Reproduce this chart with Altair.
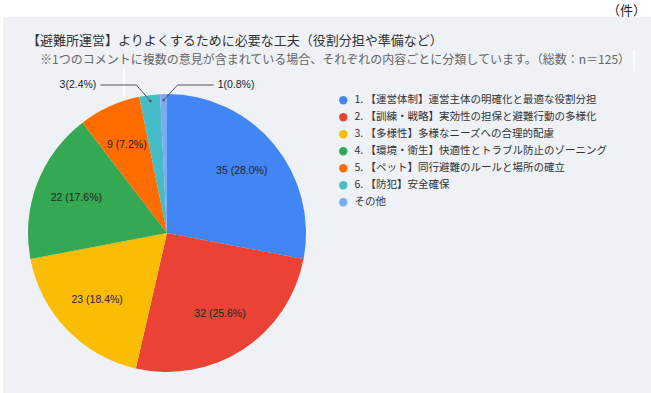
import math
import altair as alt
import pandas as pd

# ---- data ----
categories = [
    "1. 【運営体制】運営主体の明確化と最適な役割分担",
    "2. 【訓練・戦略】実効性の担保と避難行動の多様化",
    "3. 【多様性】多様なニーズへの合理的配慮",
    "4. 【環境・衛生】快適性とトラブル防止のゾーニング",
    "5. 【ペット】同行避難のルールと場所の確立",
    "6. 【防犯】安全確保",
    "その他",
]
counts = [35, 32, 23, 22, 9, 3, 1]
colors = ["#4285f4", "#ea4335", "#fbbc04", "#34a853", "#ff6d01", "#46bdc6", "#7baaf7"]

title_text = "【避難所運営】よりよくするために必要な工夫（役割分担や準備など）"
subtitle_text = "※1つのコメントに複数の意見が含まれている場合、それぞれの内容ごとに分類しています。（総数：n＝125）"
unit_text = "（件）"

# ---- layout constants ----
W, H = 651, 393
CX, CY, R = 167, 233, 139
JP = "Noto Sans CJK JP"
NUM = "Liberation Sans, Noto Sans CJK JP"

total = sum(counts)
rows = []
for i, (cat, c) in enumerate(zip(categories, counts)):
    pct = c / total * 100
    rows.append({
        "category": cat,
        "count": c,
        "idx": i,
        "label": f"{c} ({pct:.1f}%)" if pct >= 5 else "",
    })
df = pd.DataFrame(rows)

# leader lines for the small slices (computed from the data)
small = [i for i, c in enumerate(counts) if c / total * 100 < 5]
line_rows, dot_rows, out_rows = [], [], []
cum = 0
starts = []
for c in counts:
    starts.append(cum)
    cum += c
for k, i in enumerate(small):
    side = -1 if k == 0 else 1
    mid = (starts[i] + counts[i] / 2) / total * 2 * math.pi
    ax = CX + (R - 6) * math.sin(mid)
    ay = CY - (R - 6) * math.cos(mid)
    ex = ax + side * 14
    ey = CY - R - 9
    fx = ex + side * 36
    for o, (px, py) in enumerate([(ax, ay), (ex, ey), (fx, ey)]):
        line_rows.append({"g": i, "o": o, "px": px, "py": py})
    dot_rows.append({"px": ax, "py": ay})
    pct = counts[i] / total * 100
    out_rows.append({"px": fx + side * 4, "py": ey,
                     "t": f"{counts[i]}({pct:.1f}%)",
                     "side": "left" if side < 0 else "right"})

lines_df = pd.DataFrame(line_rows)
dots_df = pd.DataFrame(dot_rows)
out_df = pd.DataFrame(out_rows)

xs = alt.Scale(domain=[0, W], range=[0, W])
ys = alt.Scale(domain=[0, H], range=[0, H])

one = pd.DataFrame({"a": [0]})

panel = alt.Chart(one).mark_rect(color="#eef1f6").encode(
    x=alt.value(3), x2=alt.value(W), y=alt.value(17), y2=alt.value(H)
)
art1 = alt.Chart(one).mark_rule(color="white", strokeWidth=1.5).encode(
    x=alt.value(124), y=alt.value(67), y2=alt.value(97)
)
art2 = alt.Chart(one).mark_rule(color="white", strokeWidth=1.5).encode(
    x=alt.value(634), y=alt.value(50), y2=alt.value(71)
)

base = alt.Chart(df).encode(
    theta=alt.Theta("count:Q", stack=True),
    order=alt.Order("idx:Q"),
)

arcs = base.mark_arc(outerRadius=R).encode(
    x=alt.value(CX), y=alt.value(CY),
    color=alt.Color(
        "category:N",
        scale=alt.Scale(domain=categories, range=colors),
        legend=alt.Legend(
            orient="none", legendX=338, legendY=95, title=None,
            symbolType="circle", symbolSize=70, symbolStrokeWidth=0,
            labelFont=JP, labelFontSize=10.5, labelColor="#333",
            rowPadding=6, labelOffset=6, padding=0, labelLimit=400,
        ),
    ),
)

inner = base.mark_text(radius=97, font=NUM, fontSize=10.5, color="#222").encode(
    x=alt.value(CX), y=alt.value(CY), text="label:N"
)

leaders = alt.Chart(lines_df).mark_line(color="#555", strokeWidth=1).encode(
    x=alt.X("px:Q", scale=xs, axis=None),
    y=alt.Y("py:Q", scale=ys, axis=None),
    detail="g:N", order="o:Q",
)
dots = alt.Chart(dots_df).mark_circle(color="#555", size=8, opacity=1).encode(
    x=alt.X("px:Q", scale=xs, axis=None),
    y=alt.Y("py:Q", scale=ys, axis=None),
)
out_left = alt.Chart(out_df).transform_filter("datum.side == 'left'").mark_text(
    align="right", baseline="middle", font=NUM, fontSize=10.5, color="#222"
).encode(x=alt.X("px:Q", scale=xs, axis=None), y=alt.Y("py:Q", scale=ys, axis=None), text="t:N")
out_right = alt.Chart(out_df).transform_filter("datum.side == 'right'").mark_text(
    align="left", baseline="middle", font=NUM, fontSize=10.5, color="#222"
).encode(x=alt.X("px:Q", scale=xs, axis=None), y=alt.Y("py:Q", scale=ys, axis=None), text="t:N")

title = alt.Chart(pd.DataFrame({"t": [title_text]})).mark_text(
    align="left", baseline="middle", font=JP, fontSize=13, color="#333"
).encode(x=alt.value(27), y=alt.value(41), text="t:N")
subtitle = alt.Chart(pd.DataFrame({"t": [subtitle_text]})).mark_text(
    align="left", baseline="middle", font=JP, fontSize=12, color="#666"
).encode(x=alt.value(40), y=alt.value(60), text="t:N")
unit = alt.Chart(pd.DataFrame({"t": [unit_text]})).mark_text(
    align="right", baseline="middle", font=JP, fontSize=13, color="#222"
).encode(x=alt.value(646), y=alt.value(11), text="t:N")

chart = alt.layer(
    panel, art1, art2, arcs, inner, leaders, dots, out_left, out_right,
    title, subtitle, unit,
).properties(
    width=W, height=H, autosize=alt.AutoSizeParams(type="none"), padding=0,
    background="white",
).configure_view(strokeWidth=0)

chart.save("out.html", embed_options={"renderer": "svg", "actions": False})
